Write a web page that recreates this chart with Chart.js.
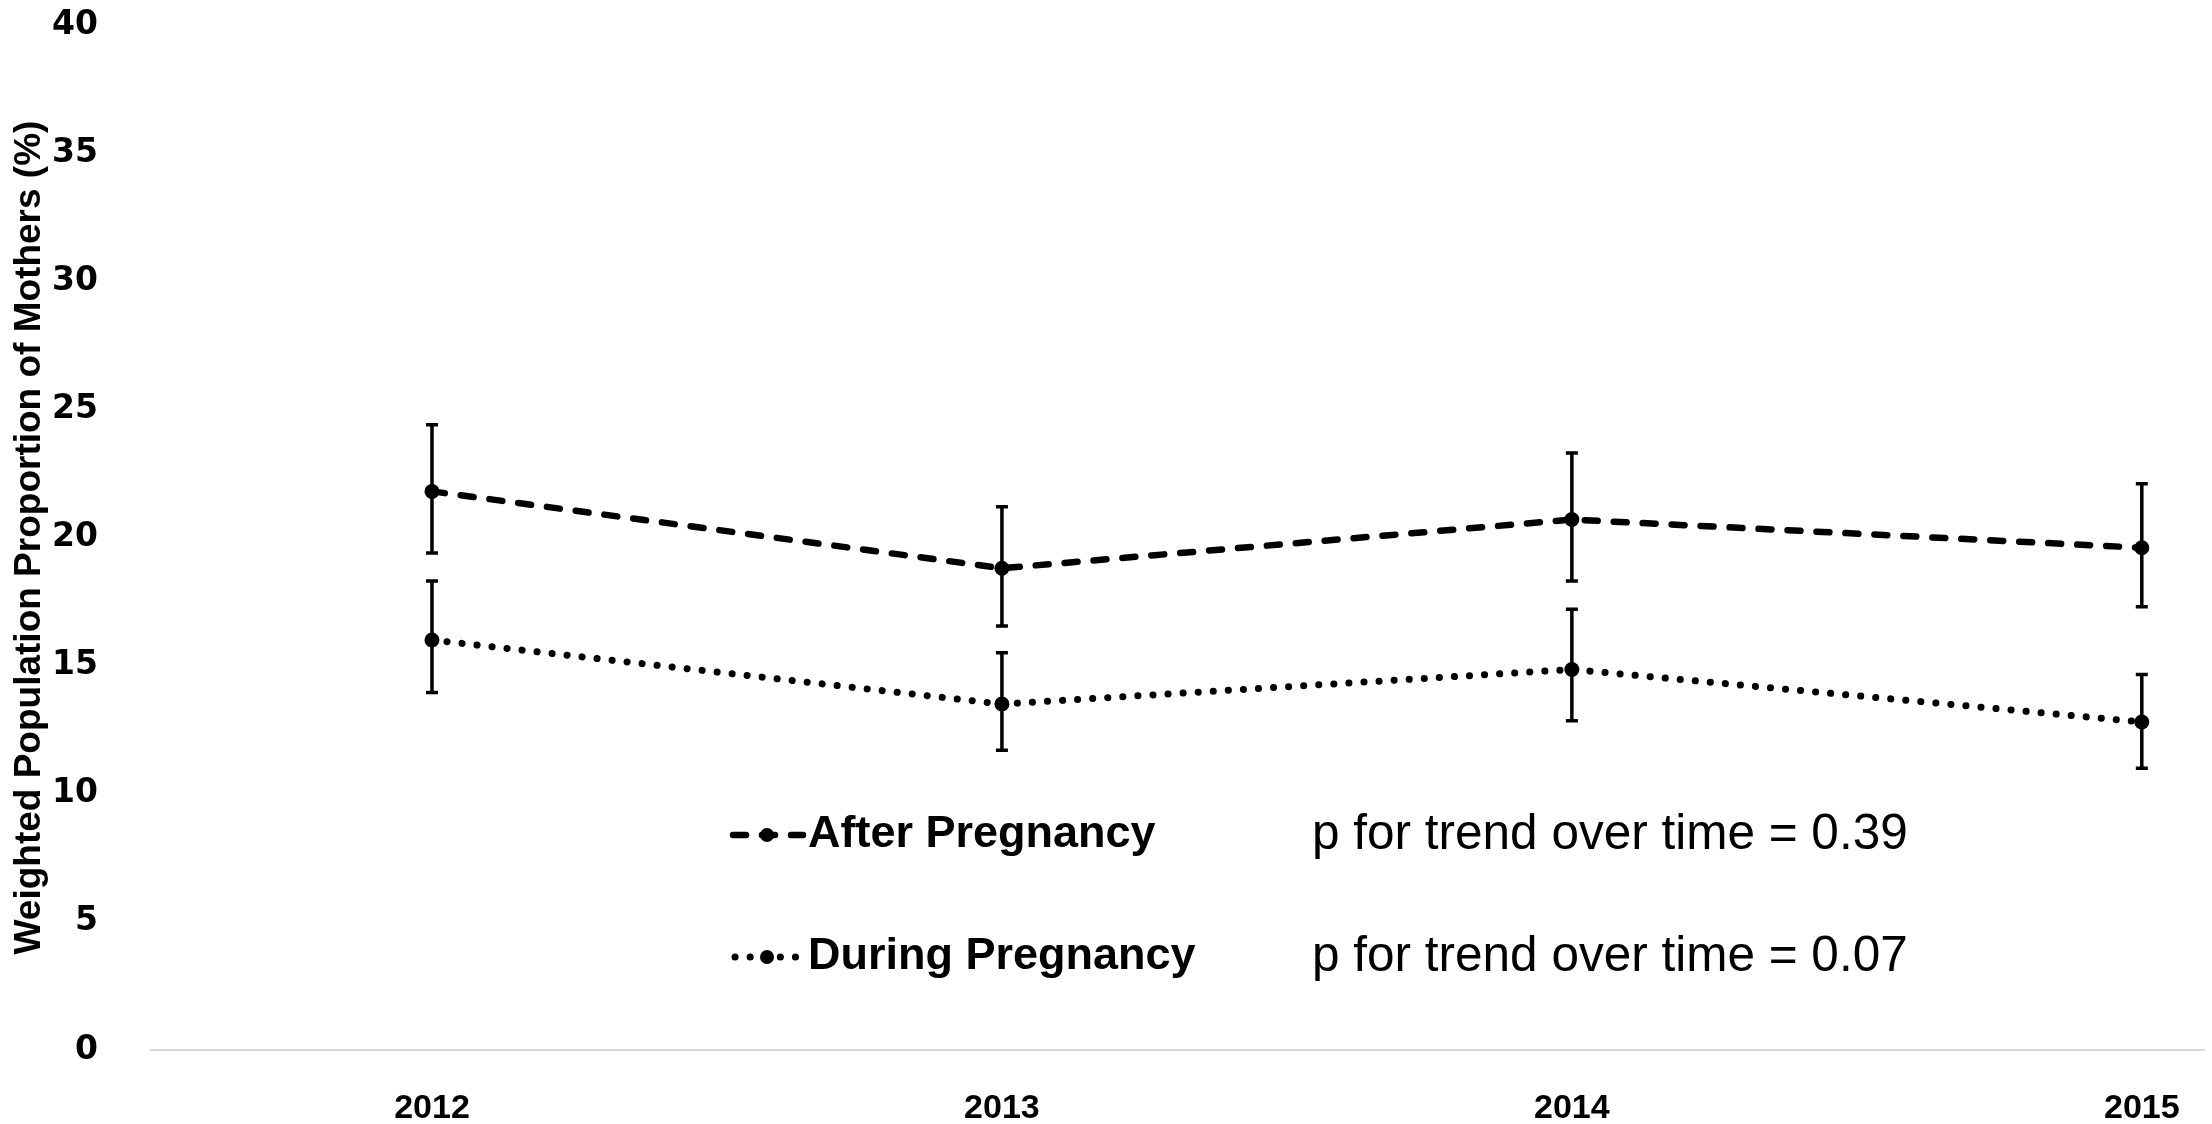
<!DOCTYPE html>
<html>
<head>
<meta charset="utf-8">
<script src="https://cdn.jsdelivr.net/npm/chart.js@4.4.0/dist/chart.umd.min.js"></script>
<style>
  html, body { margin: 0; padding: 0; background: #fff; }
</style>
</head>
<body>
<canvas id="trendChart" width="2212" height="1124"></canvas>
<script>
// data
const years = [2012, 2013, 2014, 2015];
const afterVals = [21.8, 18.8, 20.7, 19.6];
const afterLow = [19.4, 16.55, 18.3, 17.3];
const afterHigh = [24.4, 21.2, 23.3, 22.1];
const duringVals = [16.0, 13.5, 14.85, 12.8];
const duringLow = [13.95, 11.7, 12.85, 11.0];
const duringHigh = [18.3, 15.5, 17.2, 14.65];
const yTicks = [0, 5, 10, 15, 20, 25, 30, 35, 40];
const seriesNames = ["After Pregnancy", "During Pregnancy"];
const trendNotes = ["p for trend over time = 0.39", "p for trend over time = 0.07"];

const afterDash = [13, 16];
const duringDash = [0.1, 15];

// ---- error bars ----
const errorBars = {
  id: "errorBars",
  afterDatasetsDraw(chart) {
    const ctx = chart.ctx;
    const yScale = chart.scales.y;
    chart.data.datasets.forEach((ds, di) => {
      const meta = chart.getDatasetMeta(di);
      meta.data.forEach((pt, i) => {
        const top = yScale.getPixelForValue(ds.errHigh[i]);
        const bot = yScale.getPixelForValue(ds.errLow[i]);
        ctx.save();
        ctx.strokeStyle = "#000";
        ctx.lineWidth = 3.5;
        ctx.beginPath();
        ctx.moveTo(pt.x, top);
        ctx.lineTo(pt.x, bot);
        ctx.moveTo(pt.x - 6, top);
        ctx.lineTo(pt.x + 6, top);
        ctx.moveTo(pt.x - 6, bot);
        ctx.lineTo(pt.x + 6, bot);
        ctx.stroke();
        ctx.restore();
      });
    });
  }
};

// ---- legend + p value ----
const trendLegend = {
  id: "trendLegend",
  afterDraw(chart) {
    const ctx = chart.ctx;
    const rowsY = [835, 957];
    chart.data.datasets.forEach((ds, i) => {
      const y = rowsY[i];
      ctx.save();
      ctx.strokeStyle = "#000";
      ctx.lineWidth = ds.borderWidth;
      ctx.lineCap = "round";
      ctx.setLineDash(ds.borderDash);
      ctx.lineDashOffset = i === 0 ? 0 : -2;
      ctx.beginPath();
      ctx.moveTo(733, y);
      ctx.lineTo(803, y);
      ctx.stroke();
      ctx.setLineDash([]);
      ctx.fillStyle = "#000";
      ctx.beginPath();
      ctx.arc(767, y, 7, 0, Math.PI * 2);
      ctx.fill();
      ctx.textBaseline = "middle";
      ctx.textAlign = "left";
      ctx.font = "bold 45px 'Liberation Sans', Arial, sans-serif";
      ctx.fillText(seriesNames[i], 808, y);
      ctx.font = "49.5px 'Liberation Sans', Arial, sans-serif";
      ctx.fillText(trendNotes[i], 1312, y);
      ctx.restore();
    });
  }
};

const ctx = document.getElementById("trendChart");
new Chart(ctx, {
  type: "line",
  data: {
    datasets: [
      {
        label: seriesNames[0],
        data: years.map((yr, i) => ({ x: yr, y: afterVals[i] })),
        errLow: afterLow,
        errHigh: afterHigh,
        borderColor: "#000",
        backgroundColor: "#000",
        borderWidth: 6.5,
        borderDash: afterDash,
        borderCapStyle: "round",
        pointRadius: 7.5,
        pointBorderWidth: 0,
        tension: 0
      },
      {
        label: seriesNames[1],
        data: years.map((yr, i) => ({ x: yr, y: duringVals[i] })),
        errLow: duringLow,
        errHigh: duringHigh,
        borderColor: "#000",
        backgroundColor: "#000",
        borderWidth: 7,
        borderDash: duringDash,
        borderCapStyle: "round",
        pointRadius: 7.5,
        pointBorderWidth: 0,
        tension: 0
      }
    ]
  },
  options: {
    responsive: false,
    animation: false,
    devicePixelRatio: 1,
    layout: { padding: { top: 25, right: 0, bottom: 0, left: 0 } },
    plugins: {
      legend: { display: false },
      tooltip: { enabled: false }
    },
    scales: {
      x: {
        type: "linear",
        min: 2011.507,
        max: 2015.11,
        afterBuildTicks: s => { s.ticks = years.map(v => ({ value: v })); },
        afterFit: s => { s.height = 74; s.paddingLeft = 0; s.paddingRight = 0; },
        grid: { display: false },
        border: { display: true, color: "#d9d9d9", width: 2 },
        ticks: {
          padding: 30,
          maxRotation: 0,
          color: "#000",
          font: { family: "'Liberation Sans', Arial, sans-serif", size: 34, weight: "bold" },
          callback: v => String(v)
        }
      },
      y: {
        min: 0,
        max: 40,
        afterBuildTicks: s => { s.ticks = yTicks.map(v => ({ value: v })); },
        afterFit: s => { s.width = 151; s.paddingTop = 0; s.paddingBottom = 0; },
        grid: { display: false },
        border: { display: false },
        ticks: {
          padding: 45,
          color: "#000",
          font: { family: "'DejaVu Sans', sans-serif", size: 33, weight: "bold" }
        },
        title: {
          display: true,
          text: "Weighted Population Proportion of Mothers (%)",
          color: "#000",
          padding: { top: 8 },
          font: { family: "'Liberation Sans', Arial, sans-serif", size: 37, weight: "bold" }
        }
      }
    }
  },
  plugins: [errorBars, trendLegend]
});
</script>
</body>
</html>
